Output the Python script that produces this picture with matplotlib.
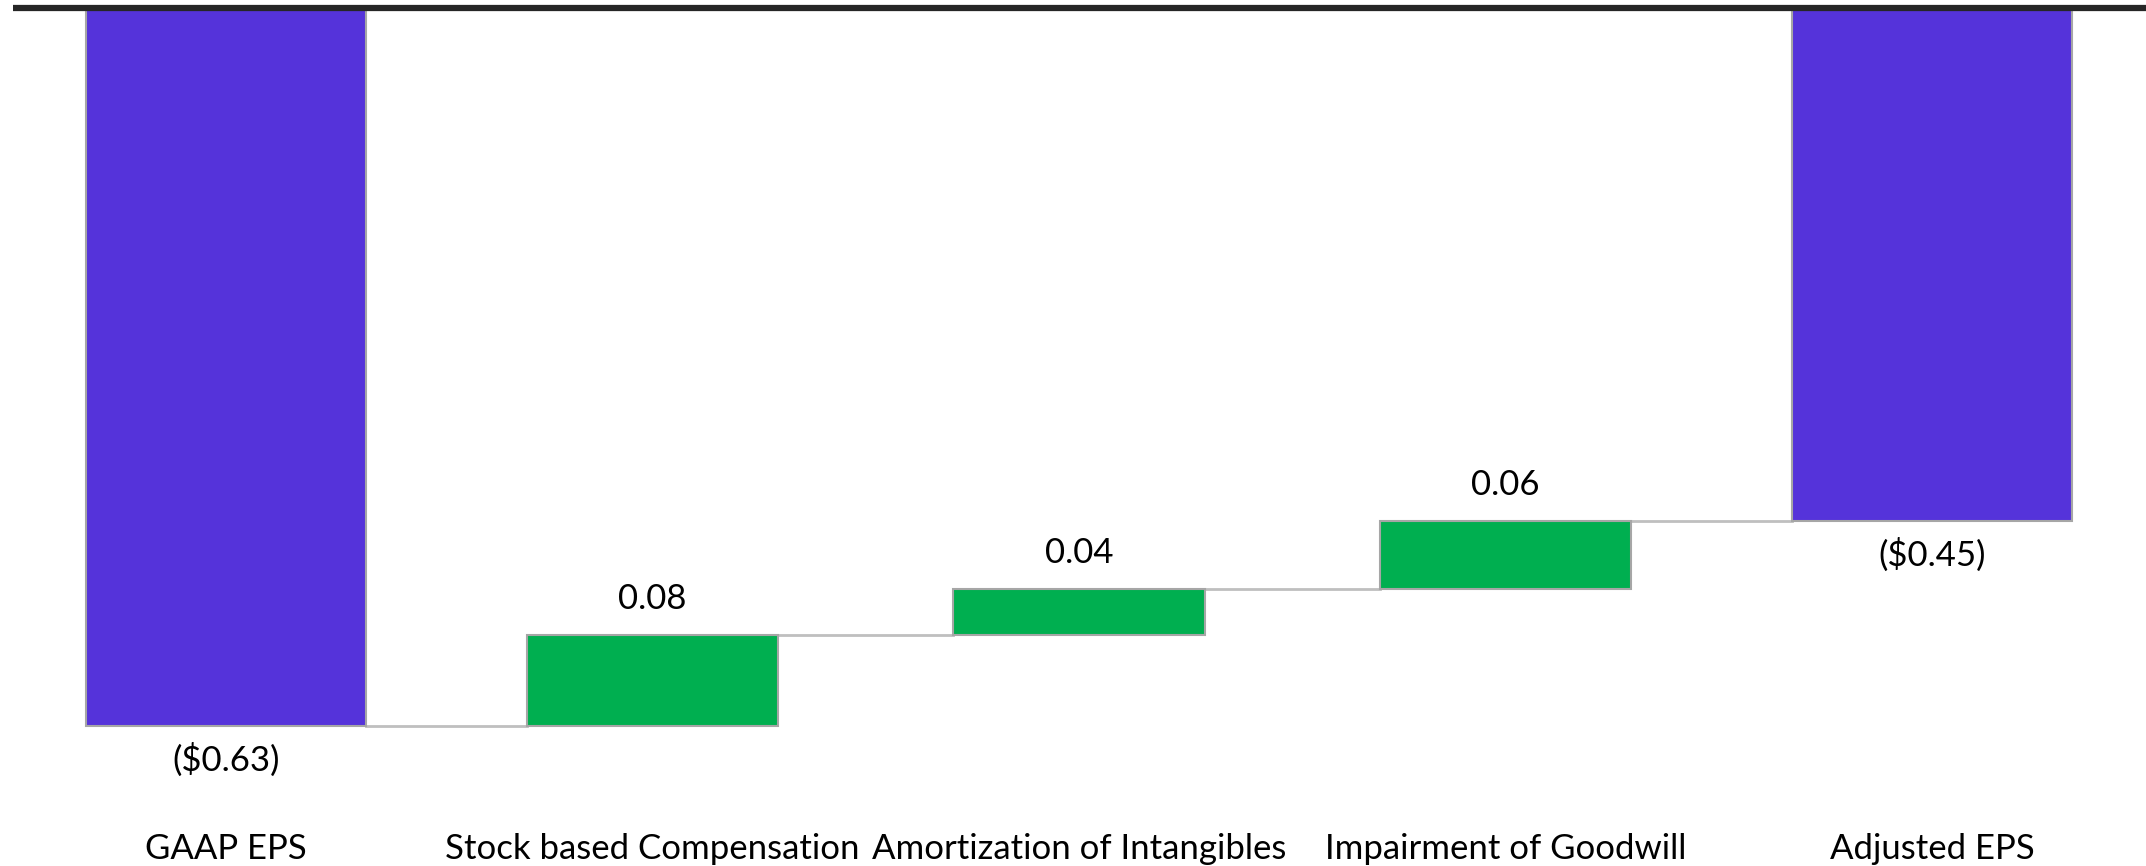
import matplotlib
matplotlib.use("Agg")
import matplotlib.pyplot as plt

categories = ["GAAP EPS", "Stock based Compensation", "Amortization of Intangibles",
              "Impairment of Goodwill", "Adjusted EPS"]
values = [-0.63, 0.08, 0.04, 0.06, -0.45]
is_total = [True, False, False, False, True]
value_labels = ["($0.63)", "0.08", "0.04", "0.06", "($0.45)"]

purple = "#5533DA"
green = "#00AF50"
edge = "#A6A6A6"

plt.rcParams["font.family"] = ["Lato", "DejaVu Sans"]

fig = plt.figure(figsize=(21.46, 8.66), dpi=100)
ax = fig.add_axes([0, 0, 1, 1])
ax.set_xlim(-0.530, 4.502)
ax.set_ylim(-0.7526, 0.007)
ax.axis("off")

# waterfall: totals hang from zero, steps stack on the running total
running = 0.0
tops = []
for i, (v, tot) in enumerate(zip(values, is_total)):
    if tot:
        bottom, height, w, col = 0.0, v, 0.656, purple
        running = v
    else:
        bottom, height, w, col = running, v, 0.59, green
        running = running + v
    ax.bar(i, height, bottom=bottom, width=w, color=col, edgecolor=edge,
           linewidth=1.5, zorder=3)
    tops.append((bottom, bottom + height, w))

    if tot:
        ax.annotate(value_labels[i], (i, v), xytext=(0, -24), textcoords="offset points",
                    ha="center", va="center", fontsize=25, color="black")
    else:
        ax.annotate(value_labels[i], (i, bottom + height), xytext=(0, 26),
                    textcoords="offset points", ha="center", va="center",
                    fontsize=25, color="black")

# connectors between consecutive bars
for i in range(len(values) - 1):
    level = tops[i][1] if not is_total[i] else values[i]
    x0 = i + tops[i][2] / 2
    x1 = i + 1 - tops[i + 1][2] / 2
    ax.plot([x0, x1], [level, level], color="#BFBFBF", lw=2, zorder=2)

# zero line along the top
ax.plot([-0.5, 4.502], [0, 0], color="#262626", lw=4.5, zorder=4, solid_capstyle="butt")

for i, c in enumerate(categories):
    ax.text(i, -0.738, c, ha="center", va="center", fontsize=25, color="black")

fig.savefig("out.png", dpi=100)
